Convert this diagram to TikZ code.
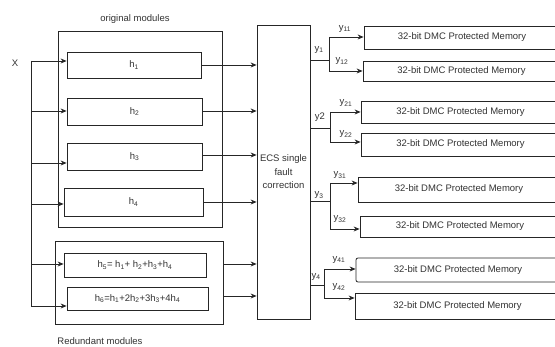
\documentclass[tikz,border=0pt]{standalone}
\usepackage{fontspec}
\setmainfont{Liberation Sans}
\usetikzlibrary{arrows.meta}
\newcommand\sbs[1]{\textsubscript{#1}}
\begin{document}
\begin{tikzpicture}[x=1pt,y=-1pt,
  every node/.style={font=\fontsize{9.5}{13.5}\selectfont, text=black!80},
  box/.style={draw=black!85, line width=0.8pt, inner sep=0pt, rectangle},
  grp/.style={draw=black!85, line width=0.9pt, inner sep=0pt, rectangle},
  lbl/.style={inner sep=0pt},
  wire/.style={draw=black!85, line width=0.8pt},
  arr/.style={wire, -{Stealth[length=6pt,width=5pt]}}]
\clip (0,0) rectangle (555,347);
\fill[white] (0,0) rectangle (555,347);
% groups
\node[grp, minimum width=164pt, minimum height=196pt] (orig) at (140,129) {};
\node[lbl] (origlbl) at (135,19) {original modules};
\node[grp, minimum width=168pt, minimum height=83pt] (red) at (139,282.5) {};
\node[lbl] (redlbl) at (100,341) {Redundant modules};
% h boxes
\node[box, minimum width=134pt, minimum height=26pt] (h1) at (134,65) {h\sbs{1}};
\node[box, minimum width=135pt, minimum height=27pt] (h2) at (134.5,111.5) {h\sbs{2}};
\node[box, minimum width=135pt, minimum height=27pt] (h3) at (134.5,156.5) {h\sbs{3}};
\node[box, minimum width=139pt, minimum height=28pt] (h4) at (133.5,202) {h\sbs{4}};
\node[box, minimum width=142pt, minimum height=24pt] (h5) at (135,265) {h\sbs{5}= h\sbs{1}+ h\sbs{2}+h\sbs{3}+h\sbs{4}};
\node[box, minimum width=141pt, minimum height=23pt] (h6) at (137.5,298.5) {h\sbs{6}=h\sbs{1}+2h\sbs{2}+3h\sbs{3}+4h\sbs{4}};
% input
\node[lbl] (x) at (15,63) {X};
\coordinate (i1) at (31,61);
\coordinate (i2) at (31,111);
\coordinate (i3) at (31,163);
\coordinate (i4) at (31,204);
\coordinate (i5) at (31,264);
\coordinate (i6) at (31,306);
\draw[wire] (i1) -- (i6);
\draw[arr] (i1) -- (h1.west |- i1);
\draw[arr] (i2) -- (h2.west |- i2);
\draw[arr] (i3) -- (h3.west |- i3);
\draw[arr] (i4) -- (h4.west |- i4);
\draw[arr] (i5) -- (h5.west |- i5);
\draw[arr] (i6) -- (h6.west |- i6);
% ECS
\node[box, minimum width=53pt, minimum height=294pt, align=center] (ecs) at (283.5,172) {};
\node[lbl, align=center] (ecstxt) at (283.5,172) {ECS single\\fault\\correction};
% outputs of h
\coordinate (o1) at (201,65);
\coordinate (o2) at (202,111);
\coordinate (o3) at (202,155);
\coordinate (o4) at (203,202);
\coordinate (o5) at (223,264);
\coordinate (o6) at (223,296);
\draw[arr] (h1.east |- o1) -- (ecs.west |- o1);
\draw[arr] (h2.east |- o2) -- (ecs.west |- o2);
\draw[arr] (h3.east |- o3) -- (ecs.west |- o3);
\draw[arr] (h4.east |- o4) -- (ecs.west |- o4);
\draw[arr] (red.east |- o5) -- (ecs.west |- o5);
\draw[arr] (red.east |- o6) -- (ecs.west |- o6);
% memories
\node[box, minimum width=196pt, minimum height=23pt] (m11) at (462,37.5) {32-bit DMC Protected Memory};
\node[box, minimum width=197pt, minimum height=20pt] (m12) at (461.5,71) {32-bit DMC Protected Memory};
\node[box, minimum width=199pt, minimum height=22pt] (m21) at (460.5,112) {32-bit DMC Protected Memory};
\node[box, minimum width=199pt, minimum height=23pt] (m22) at (460.5,144.5) {32-bit DMC Protected Memory};
\node[box, minimum width=202pt, minimum height=25pt] (m31) at (459,189.5) {32-bit DMC Protected Memory};
\node[box, minimum width=200pt, minimum height=21pt] (m32) at (460,226.5) {32-bit DMC Protected Memory};
\node[box, minimum width=204pt, minimum height=24pt, rounded corners=2pt] (m41) at (458,270) {32-bit DMC Protected Memory};
\node[box, minimum width=205pt, minimum height=26pt] (m42) at (457.5,306) {32-bit DMC Protected Memory};
% branches
\coordinate (e1) at (310,60);  \coordinate (b1) at (329,60);
\coordinate (t11) at (329,37); \coordinate (t12) at (329,71);
\draw[wire] (ecs.east |- e1) -- (b1);
\draw[wire] (t11) -- (t12);
\draw[arr] (t11) -- (m11.west |- t11);
\draw[arr] (t12) -- (m12.west |- t12);
\coordinate (e2) at (310,128); \coordinate (b2) at (330,128);
\coordinate (t21) at (330,112); \coordinate (t22) at (330,142);
\draw[wire] (ecs.east |- e2) -- (b2);
\draw[wire] (t21) -- (t22);
\draw[arr] (t21) -- (m21.west |- t21);
\draw[arr] (t22) -- (m22.west |- t22);
\coordinate (e3) at (310,201); \coordinate (b3) at (330,201);
\coordinate (t31) at (330,183); \coordinate (t32) at (330,229);
\draw[wire] (ecs.east |- e3) -- (b3);
\draw[wire] (t31) -- (t32);
\draw[arr] (t31) -- (m31.west |- t31);
\draw[arr] (t32) -- (m32.west |- t32);
\coordinate (e4) at (310,285); \coordinate (b4) at (324,285);
\coordinate (t41) at (324,269); \coordinate (t42) at (324,298);
\draw[wire] (ecs.east |- e4) -- (b4);
\draw[wire] (t41) -- (t42);
\draw[arr] (t41) -- (m41.west |- t41);
\draw[arr] (t42) -- (m42.west |- t42);
% labels
\node[lbl] (ly1) at (319,50) {y\sbs{1}};
\node[lbl] (ly11) at (345,29) {y\sbs{11}};
\node[lbl] (ly12) at (342,61) {y\sbs{12}};
\node[lbl] (ly2) at (320,117) {y2};
\node[lbl] (ly21) at (346,103) {y\sbs{21}};
\node[lbl] (ly22) at (346,134) {y\sbs{22}};
\node[lbl] (ly3) at (319,195) {y\sbs{3}};
\node[lbl] (ly31) at (340,175) {y\sbs{31}};
\node[lbl] (ly32) at (340,219) {y\sbs{32}};
\node[lbl] (ly4) at (316,277) {y\sbs{4}};
\node[lbl] (ly41) at (339,260) {y\sbs{41}};
\node[lbl] (ly42) at (339,287) {y\sbs{42}};
\end{tikzpicture}
\end{document}
